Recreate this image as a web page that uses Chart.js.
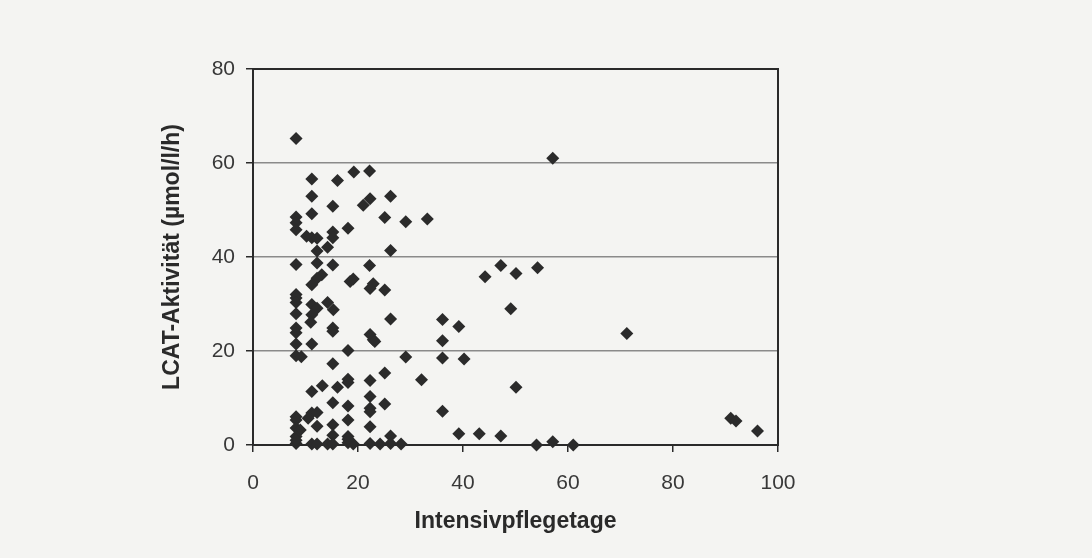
<!DOCTYPE html>
<html>
<head>
<meta charset="utf-8">
<script src="https://cdn.jsdelivr.net/npm/chart.js@4/dist/chart.umd.min.js"></script>
<style>
  html, body { margin: 0; padding: 0; background: #f4f4f2; }
  #wrap { width: 1092px; height: 558px; position: relative; }
</style>
</head>
<body>
<div id="wrap"><canvas id="c" width="1092" height="558"></canvas></div>
<script>
// Intensive care days (x) and LCAT activity (y)
const days = [
  8.2, 11.2, 16.1, 19.2, 22.2, 11.2, 15.2, 21.0, 22.3, 26.2,
  11.2, 8.2, 8.2, 8.2, 25.1, 29.1, 18.1, 10.2, 11.2, 12.2,
  15.2, 15.2, 14.2, 12.2, 26.2, 8.2, 12.2, 15.2, 22.2, 13.1,
  12.2, 11.2, 18.5, 19.1, 22.9, 22.3, 25.1, 8.2, 8.2, 8.2,
  8.2, 8.2, 8.2, 8.2, 8.2, 9.2, 11.2, 12.2, 11.2, 11.0,
  14.2, 15.3, 15.2, 15.2, 11.2, 26.2, 22.3, 22.9, 23.2, 18.1,
  29.1, 15.2, 25.1, 18.1, 18.1, 22.3, 13.2, 16.1, 11.2, 15.2,
  22.3, 18.1, 22.3, 22.3, 25.1, 8.2, 8.2, 11.2, 12.2, 10.5,
  18.1, 8.2, 9.0, 12.2, 15.2, 22.3, 15.2, 18.1, 8.2, 26.2,
  8.2, 11.2, 12.2, 14.2, 15.2, 18.1, 19.1, 22.3, 24.2, 26.2, 28.2,
  8.2, 18.1,
  57.1, 33.2, 44.2, 47.2, 50.1, 54.2, 49.1, 36.1, 39.2, 36.1,
  36.1, 40.2, 32.1, 50.1, 36.1, 39.2, 43.1, 47.2, 54.0, 57.1,
  61.0, 71.2, 91.0, 92.0, 96.1
];
const lcat = [
  65.2, 56.6, 56.3, 58.1, 58.3, 52.9, 50.8, 51.0, 52.4, 52.9,
  49.2, 48.5, 47.3, 45.8, 48.4, 47.5, 46.1, 44.4, 44.1, 44.0,
  45.3, 44.1, 42.1, 41.3, 41.4, 38.4, 38.7, 38.3, 38.2, 36.2,
  35.5, 34.1, 34.8, 35.3, 34.3, 33.3, 33.0, 32.0, 31.3, 30.3,
  27.9, 24.9, 23.9, 21.5, 19.0, 18.8, 29.9, 29.1, 27.7, 26.1,
  30.3, 28.8, 24.9, 24.2, 21.5, 26.8, 23.5, 22.4, 22.0, 20.1,
  18.7, 17.3, 15.3, 14.0, 13.3, 13.7, 12.6, 12.3, 11.4, 9.0,
  10.3, 8.3, 7.8, 7.1, 8.7, 6.0, 5.3, 6.8, 6.9, 5.7,
  5.3, 3.6, 3.2, 4.0, 4.3, 3.9, 2.1, 1.8, 1.8, 1.9,
  0.3, 0.2, 0.2, 0.2, 0.2, 0.5, 0.2, 0.3, 0.2, 0.3, 0.2,
  1.0, 1.2,
  61.0, 48.1, 35.8, 38.2, 36.5, 37.7, 29.0, 26.7, 25.2, 22.2,
  18.5, 18.3, 13.9, 12.3, 7.2, 2.4, 2.4, 1.9, 0.0, 0.7,
  0.0, 23.7, 5.7, 5.1, 3.0
];
const xTicks = [0, 20, 40, 60, 80, 100];
const yTicks = [0, 20, 40, 60, 80];
const xTitle = 'Intensivpflegetage';
const yTitle = 'LCAT-Aktivität (µmol/l/h)';

const points = days.map((d, i) => ({ x: d, y: lcat[i] }));

const bg = {
  id: 'bg',
  beforeDraw(chart) {
    const ctx = chart.ctx;
    ctx.save();
    ctx.fillStyle = '#f4f4f2';
    ctx.fillRect(0, 0, chart.width, chart.height);
    ctx.restore();
  },
  beforeDatasetsDraw(chart) {
    const a = chart.chartArea, ctx = chart.ctx;
    ctx.save();
    ctx.strokeStyle = '#2a2a2a';
    ctx.lineWidth = 2;
    ctx.strokeRect(a.left, a.top, a.right - a.left, a.bottom - a.top);
    ctx.restore();
  }
};

const tickFont = { family: 'Liberation Sans, Arial, sans-serif', size: 21 };
const titleFont = { family: 'Liberation Sans, Arial, sans-serif', size: 23, weight: 'bold' };

new Chart(document.getElementById('c'), {
  type: 'scatter',
  data: {
    datasets: [{
      data: points,
      pointStyle: 'rectRot',
      pointRadius: 6.5,
      pointHoverRadius: 6.5,
      backgroundColor: '#2b2b2b',
      borderColor: '#2b2b2b',
      borderWidth: 0,
      clip: false
    }]
  },
  options: {
    responsive: false,
    animation: false,
    events: [],
    layout: { padding: { left: 150, top: 69, right: 314, bottom: 0 } },
    plugins: { legend: { display: false }, tooltip: { enabled: false } },
    scales: {
      x: {
        type: 'linear',
        min: 0, max: 100,
        afterBuildTicks(s) { s.ticks = xTicks.map(v => ({ value: v })); },
        afterFit(s) { s.height = 113; },
        grid: { drawOnChartArea: false, drawTicks: true, tickLength: 7, tickColor: '#2a2a2a', lineWidth: 1.5 },
        border: { display: true, color: '#2a2a2a', width: 2 },
        ticks: { font: tickFont, color: '#383838', padding: 19, maxRotation: 0 },
        title: { display: true, text: xTitle, font: titleFont, color: '#2a2a2a', padding: { top: 0, bottom: 23 } }
      },
      y: {
        type: 'linear',
        min: 0, max: 80,
        afterBuildTicks(s) { s.ticks = yTicks.map(v => ({ value: v })); },
        afterFit(s) { s.width = 103; },
        grid: {
          drawOnChartArea: true, drawTicks: true, tickLength: 7,
          color: '#8a8a8a', lineWidth: 1.5, tickColor: '#2a2a2a'
        },
        border: { display: true, color: '#2a2a2a', width: 2 },
        ticks: { font: tickFont, color: '#383838', padding: 11 },
        title: { display: true, text: yTitle, font: titleFont, color: '#2a2a2a', padding: { top: 9, bottom: 0 } }
      }
    }
  },
  plugins: [bg]
});
</script>
</body>
</html>
